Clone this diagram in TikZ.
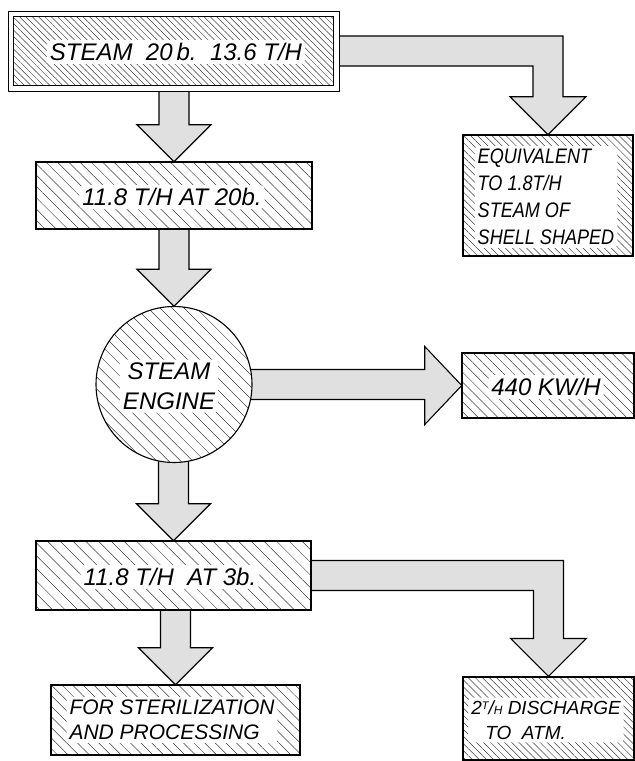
\documentclass[tikz,border=0pt]{standalone}
\usepackage{fontspec}
\setmainfont{Liberation Sans}
\newfontfamily\narrowhand{Liberation Sans}[FakeStretch=0.86]
\usetikzlibrary{calc,patterns.meta,backgrounds}
\newcommand\vblk[2]{\draw[blk] ($(#2 |- #1)+(-15,0)$) -- ($(#2)+(-15,-37)$) -- ($(#2)+(-37,-37)$) -- (#2) -- ($(#2)+(37,-37)$) -- ($(#2)+(15,-37)$) -- ($(#2 |- #1)+(15,0)$) -- cycle;}
\newcommand\lblk[2]{\draw[blk] ($(#1)+(0,-15)$) -- ($(#2 |- #1)+(15,-15)$) -- ($(#2)+(15,-38)$) -- ($(#2)+(38,-38)$) -- (#2) -- ($(#2)+(-38,-38)$) -- ($(#2)+(-15,-38)$) -- ($(#2 |- #1)+(-15,15)$) -- ($(#1)+(0,15)$) -- cycle;}
\begin{document}
\begin{tikzpicture}[x=1pt,y=-1pt,
  box/.style={rectangle, draw=black, line width=1.1pt, inner sep=0pt,
    preaction={fill=white},
    pattern={Lines[angle=-45,distance=#1,line width=0.5pt]}, pattern color=black!75},
  box/.default=6pt,
  lbl/.style={fill=white, inner sep=3pt, rounded corners=4pt,
    font=\itshape\fontsize{24}{30}\selectfont},
  blk/.style={draw=black, line width=1.1pt, fill=black!12, line join=miter}]
\useasboundingbox (0,0) rectangle (635,761);
% boxes
\node[draw=black, line width=0.8pt, fill=white, minimum width=331pt, minimum height=80pt, inner sep=0pt] (src) at (173.5,51) {};
\node[box=4.5pt, line width=1.3pt, minimum width=320pt, minimum height=69pt] (srcin) at (src.center) {};
\node[box=8pt, minimum width=276pt, minimum height=67pt] (b2) at (174,195.5) {};
\node[box=5pt, minimum width=170pt, minimum height=121pt] (eq) at (548,195.5) {};
\node[box=8.5pt, circle, minimum size=156pt] (eng) at (174,384.5) {};
\node[box=7pt, minimum width=172pt, minimum height=65pt] (kw) at (548,385.5) {};
\node[box=9pt, minimum width=275pt, minimum height=69pt] (b3) at (173.5,575.5) {};
\node[box=7.5pt, minimum width=249pt, minimum height=70pt] (ster) at (175.5,720) {};
\node[box=5pt, minimum width=171pt, minimum height=83pt] (dis) at (548.5,718.5) {};
% labels
\node[lbl] (tSrc) at (176,52) {STEAM\ \ 20\,b.\ \ 13.6 T/H};
\node[lbl] (tB2) at (172,197) {11.8 T/H AT 20b.};
\node[lbl, align=left, font=\narrowhand\itshape\fontsize{21}{27}\selectfont] (tEq) at (546,197) {EQUIVALENT\\TO 1.8T/H\\STEAM OF\\SHELL SHAPED};
\node[lbl, align=center] (tEng) at (169,386) {STEAM\\ENGINE};
\node[lbl] (tKw) at (546,387) {440\ KW/H};
\node[lbl] (tB3) at (170,577) {11.8 T/H\ \ AT 3b.};
\node[lbl, align=left, font=\itshape\fontsize{21}{25}\selectfont] (tSter) at (172,720) {FOR STERILIZATION\\AND PROCESSING};
\node[lbl, align=left, font=\itshape\fontsize{19}{25}\selectfont] (tDis) at (546,720) {2\raisebox{5pt}{\fontsize{11}{11}\selectfont T}/{\fontsize{12}{12}\selectfont H} DISCHARGE\\\hspace{14pt}TO\ \ ATM.};
% block arrows
\begin{scope}[on background layer]
\vblk{src.south}{b2.north}
\vblk{b2.south}{eng.north}
\vblk{eng.center}{b3.north}
\vblk{b3.south}{ster.north}
\lblk{src.east}{eq.north}
\lblk{b3.east}{dis.north}
\draw[blk] ($(eng.center)+(0,-15)$) -- ($(kw.west |- eng.center)+(-37,-15)$) -- ($(kw.west)+(-37,-39)$) -- (kw.west) -- ($(kw.west)+(-37,39)$) -- ($(kw.west |- eng.center)+(-37,15)$) -- ($(eng.center)+(0,15)$) -- cycle;
\end{scope}
\end{tikzpicture}
\end{document}
